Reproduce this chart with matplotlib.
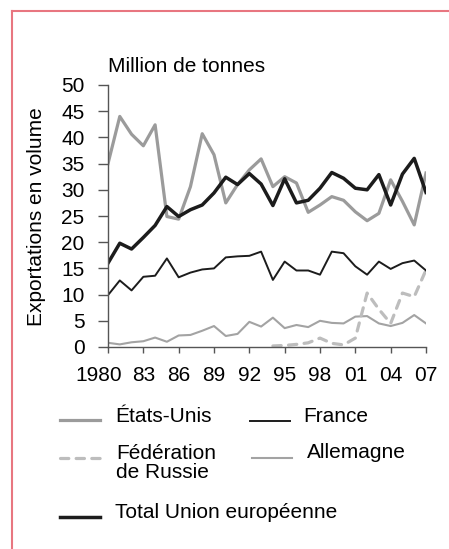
import matplotlib
matplotlib.use('Agg')
from matplotlib import pyplot as plt
from matplotlib.lines import Line2D
from matplotlib import transforms

plt.rcParams['font.family'] = ['Liberation Sans', 'DejaVu Sans']

years = list(range(1980, 2008))
etats_unis = [35.0, 44.0, 40.6, 38.4, 42.4, 24.9, 24.4, 30.6, 40.7, 36.7,
              27.5, 31.0, 33.8, 35.9, 30.6, 32.5, 31.3, 25.7, 27.1, 28.7,
              28.0, 25.8, 24.1, 25.5, 31.9, 27.8, 23.3, 33.2]
france = [9.9, 12.7, 10.8, 13.4, 13.6, 16.9, 13.3, 14.2, 14.8, 15.0,
          17.1, 17.3, 17.4, 18.2, 12.8, 16.3, 14.6, 14.6, 13.8, 18.2,
          17.9, 15.4, 13.8, 16.3, 14.9, 16.0, 16.5, 14.6]
allemagne = [0.8, 0.5, 0.9, 1.1, 1.8, 1.0, 2.2, 2.3, 3.1, 4.0,
             2.1, 2.5, 4.8, 3.9, 5.6, 3.6, 4.2, 3.8, 5.0, 4.6,
             4.5, 5.8, 5.9, 4.5, 4.0, 4.6, 6.1, 4.5]
russie_years = list(range(1994, 2008))
russie = [0.2, 0.3, 0.5, 0.8, 1.7, 0.7, 0.4, 1.7, 10.3, 7.2, 4.5, 10.3, 9.6, 14.7]
total_ue = [16.0, 19.8, 18.7, 20.9, 23.2, 26.8, 24.9, 26.2, 27.1, 29.4,
            32.4, 31.0, 33.1, 31.1, 27.0, 32.1, 27.5, 28.0, 30.3, 33.3,
            32.2, 30.3, 30.0, 32.9, 27.1, 33.0, 36.0, 29.5]
tick_years = list(range(1980, 2008, 3))
tick_labels = ['1980', '83', '86', '89', '92', '95', '98', '01', '04', '07']

W, H = 449, 549
FS = 15
fig = plt.figure(figsize=(W / 100, H / 100), dpi=100)
ax = fig.add_axes([108 / W, 1 - 347 / H, (426 - 108) / W, (347 - 85) / H])

grey = '#9b9b9b'
light = '#bdbdbd'
black = '#1c1c1c'
rus_dash = (2.6, 2.3)

ax.plot(years, etats_unis, color=grey, lw=2.3)
ax.plot(years, allemagne, color='#a3a3a3', lw=1.5)
ax.plot(russie_years, russie, color=light, lw=2.3, dashes=rus_dash, dash_capstyle='round')
ax.plot(years, france, color=black, lw=1.4)
ax.plot(years, total_ue, color=black, lw=2.5)

ax.set_xlim(1980, 2007)
ax.set_ylim(0, 50)
ax.set_yticks(range(0, 51, 5))
ax.set_xticks(tick_years)
ax.set_xticklabels(tick_labels)
for s in ['top', 'right']:
    ax.spines[s].set_visible(False)
for s in ['left', 'bottom']:
    ax.spines[s].set_color('#555555')
    ax.spines[s].set_linewidth(1.0)
ax.tick_params(axis='both', labelsize=FS, colors='#555555', labelcolor='black', width=1.0)
ax.tick_params(axis='y', length=7, pad=10)
ax.tick_params(axis='x', length=4.5, pad=9)
lab0 = ax.get_xticklabels()[0]
lab0.set_transform(lab0.get_transform() + transforms.ScaledTranslation(-9.5 / 100, 0, fig.dpi_scale_trans))

fig.text(108 / W, 1 - 66 / H, 'Million de tonnes', fontsize=FS, va='center', ha='left')
fig.text(37 / W, 1 - 217 / H, 'Exportations en volume', fontsize=FS, rotation=90,
         va='center', ha='center')

# legend
entries = [
    (60, 420, grey, 2.3, None, 115, 'États-Unis'),
    (250, 421, black, 1.4, None, 303, 'France'),
    (60, 458, light, 2.3, rus_dash, 116, 'Fédération\nde Russie'),
    (252, 458, '#a3a3a3', 1.5, None, 307, 'Allemagne'),
    (60, 517, black, 2.5, None, 115, 'Total Union européenne'),
]
for x0, y0, c, lw, d, tx, txt in entries:
    ln = Line2D([x0 / W, (x0 + 40) / W], [1 - y0 / H, 1 - y0 / H], color=c, lw=lw,
                transform=fig.transFigure)
    if d:
        ln.set_dashes(d)
        ln.set_dash_capstyle('round')
    fig.add_artist(ln)
    if '\n' in txt:
        fig.text(tx / W, 1 - 463 / H, txt, fontsize=FS, va='center', ha='left',
                 linespacing=1.0)
    elif txt == 'Allemagne':
        fig.text(tx / W, 1 - 452 / H, txt, fontsize=FS, va='center', ha='left')
    else:
        fig.text(tx / W, 1 - (y0 - 4) / H, txt, fontsize=FS, va='center', ha='left')

# red frame
fig.add_artist(Line2D([12 / W, 12 / W], [0, 1 - 11 / H], color='#e87680', lw=1.5,
                      transform=fig.transFigure))
fig.add_artist(Line2D([12 / W, 1], [1 - 11 / H, 1 - 11 / H], color='#e87680', lw=1.5,
                      transform=fig.transFigure))

fig.savefig('out.png', dpi=100)
